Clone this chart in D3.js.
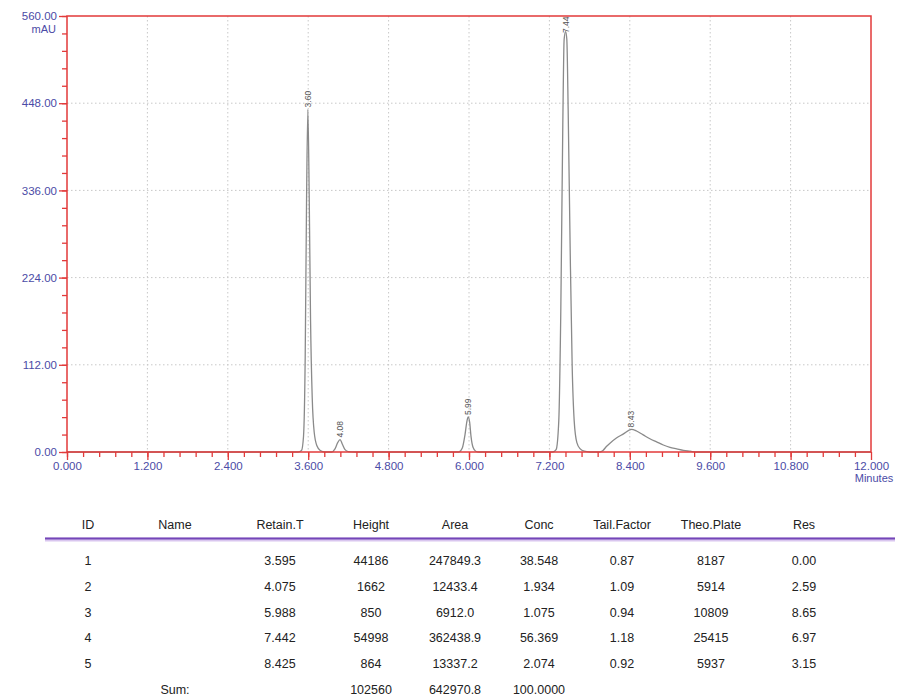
<!DOCTYPE html>
<html><head><meta charset="utf-8">
<script src="https://cdn.jsdelivr.net/npm/d3@7"></script>
<style>body{margin:0;background:#fff}svg{display:block}</style>
</head><body>
<svg id="c" width="900" height="700"></svg>
<script>
// ---- data ----
const traceTime = [0,3.45,3.50,3.53,3.555,3.575,3.595,3.615,3.635,3.66,3.69,3.73,3.78,3.85,
  3.95,4.0,4.04,4.075,4.11,4.15,4.2,4.3,
  5.85,5.9,5.94,5.97,5.988,6.01,6.03,6.06,6.1,6.15,
  7.25,7.30,7.34,7.37,7.40,7.42,7.442,7.46,7.48,7.51,7.54,7.57,7.61,7.66,7.72,7.8,
  7.95,8.0,8.05,8.1,8.2,8.3,8.425,8.5,8.6,8.7,8.8,8.9,9.0,9.1,9.2,9.3,9.4,12];
const traceSignal = [0,0,2,20,120,320,440,330,170,70,25,8,2,0,
  0,4,12,16,10,3,0.5,0,
  0,5,22,40,45,38,20,6,1,0,
  0,3,40,180,420,530,540,530,440,260,110,40,12,4,1,0,
  0,2,7,11,18,23,29,27,22,17,13,9,6,4,2,1,0,0];
const peakTimes = [3.595,4.075,5.988,7.442,8.425];
const peakHeights = [440,16,45,540,29];
const peakLabels = ["3.60","4.08","5.99","7.44","8.43"];
const xTicks = [0,1.2,2.4,3.6,4.8,6.0,7.2,8.4,9.6,10.8,12];
const yTicks = [0,112,224,336,448,560];

const columns = ["ID","Name","Retain.T","Height","Area","Conc","Tail.Factor","Theo.Plate","Res"];
const ids = ["1","2","3","4","5"];
const names = ["","","","",""];
const retainT = ["3.595","4.075","5.988","7.442","8.425"];
const heights = ["44186","1662","850","54998","864"];
const areas = ["247849.3","12433.4","6912.0","362438.9","13337.2"];
const concs = ["38.548","1.934","1.075","56.369","2.074"];
const tailFactors = ["0.87","1.09","0.94","1.18","0.92"];
const theoPlates = ["8187","5914","10809","25415","5937"];
const resValues = ["0.00","2.59","8.65","6.97","3.15"];
const sumRow = ["","Sum:","","102560","642970.8","100.0000","","",""];

// ---- chart ----
const svg = d3.select("#c");
const L = 67, R = 871, T = 16, B = 452;
const x = d3.scaleLinear().domain([0,12]).range([L,R]);
const y = d3.scaleLinear().domain([0,560]).range([B,T]);
const axisColor = "#e23a3a", labelColor = "#4b4ba6";
const font = "'Liberation Sans', Arial, sans-serif";

// grid
const g = svg.append("g");
g.selectAll("line.vg").data(xTicks.slice(1,-1)).enter().append("line")
  .attr("x1",d=>x(d)).attr("x2",d=>x(d)).attr("y1",T).attr("y2",B)
  .attr("stroke","#c8c8c8").attr("stroke-dasharray","1.5,2.5");
g.selectAll("line.hg").data(yTicks.slice(1,-1)).enter().append("line")
  .attr("x1",L).attr("x2",R).attr("y1",d=>y(d)).attr("y2",d=>y(d))
  .attr("stroke","#c8c8c8").attr("stroke-dasharray","1.5,2.5");

// trace
const pts = traceTime.map((t,i)=>[t,traceSignal[i]]);
svg.append("path").datum(pts)
  .attr("d", d3.line().x(d=>x(d[0])).y(d=>y(d[1])).curve(d3.curveMonotoneX))
  .attr("fill","none").attr("stroke","#8a8a8a").attr("stroke-width",1.3);

// peak labels
svg.selectAll("text.pk").data(peakTimes).enter().append("text")
  .attr("transform",(d,i)=>`translate(${x(d)+3},${Math.max(y(peakHeights[i])-2, T+17)}) rotate(-90)`)
  .attr("font-family",font).attr("font-size",8.5).attr("fill","#555")
  .text((d,i)=>peakLabels[i]);

// axes
const xAxis = d3.axisBottom(x).tickValues(xTicks).tickFormat(d3.format(".3f")).tickSize(8).tickPadding(2);
const xMinor = d3.axisBottom(x).tickValues(d3.range(0,50).map(i=>i*0.24).filter(v=>v<=12.001)).tickFormat("").tickSize(5);
const yAxis = d3.axisLeft(y).tickValues(yTicks).tickFormat(d3.format(".2f")).tickSize(8).tickPadding(2);
const yMinor = d3.axisLeft(y).tickValues(d3.range(0,26).map(i=>i*22.4)).tickFormat("").tickSize(5);

function style(sel){
  sel.selectAll("path").remove();
  sel.selectAll("line").attr("stroke",axisColor).attr("stroke-width",1.3);
  sel.selectAll("text").attr("fill",labelColor).attr("font-family",font).attr("font-size",11.5);
}
svg.append("g").attr("transform",`translate(0,${B})`).call(xMinor).call(style);
svg.append("g").attr("transform",`translate(0,${B})`).call(xAxis).call(style);
svg.append("g").attr("transform",`translate(${L},0)`).call(yMinor).call(style);
svg.append("g").attr("transform",`translate(${L},0)`).call(yAxis).call(style);

// frame
svg.append("rect").attr("x",L).attr("y",T).attr("width",R-L).attr("height",B-T)
  .attr("fill","none").attr("stroke",axisColor).attr("stroke-width",1.5);

svg.append("text").attr("x",L-11).attr("y",T+17).attr("text-anchor","end")
  .attr("font-family",font).attr("font-size",11).attr("fill",labelColor).text("mAU");
svg.append("text").attr("x",x(12)+3).attr("y",B+30).attr("text-anchor","middle")
  .attr("font-family",font).attr("font-size",11).attr("fill",labelColor).text("Minutes");

// ---- table ----
const colX = [88,175,280,371,455,539,622,711,804];
const rows = ids.map((id,i)=>[id,names[i],retainT[i],heights[i],areas[i],concs[i],tailFactors[i],theoPlates[i],resValues[i]]);
rows.push(sumRow);
const tb = svg.append("g").attr("font-family",font).attr("font-size",12.5).attr("fill","#222");
tb.selectAll("text.h").data(columns).enter().append("text")
  .attr("x",(d,i)=>colX[i]).attr("y",529).attr("text-anchor","middle").text(d=>d);
svg.append("line").attr("x1",45).attr("x2",895).attr("y1",539.5).attr("y2",539.5)
  .attr("stroke","#d9c6ef").attr("stroke-width",4);
svg.append("line").attr("x1",45).attr("x2",895).attr("y1",538.5).attr("y2",538.5)
  .attr("stroke","#7446b8").attr("stroke-width",1.8);
const rg = tb.selectAll("g.r").data(rows).enter().append("g")
  .attr("transform",(d,i)=>`translate(0,${565+i*25.8})`);
rg.selectAll("text").data(d=>d).enter().append("text")
  .attr("x",(d,i)=>colX[i]).attr("text-anchor","middle").text(d=>d);
</script>
</body></html>
